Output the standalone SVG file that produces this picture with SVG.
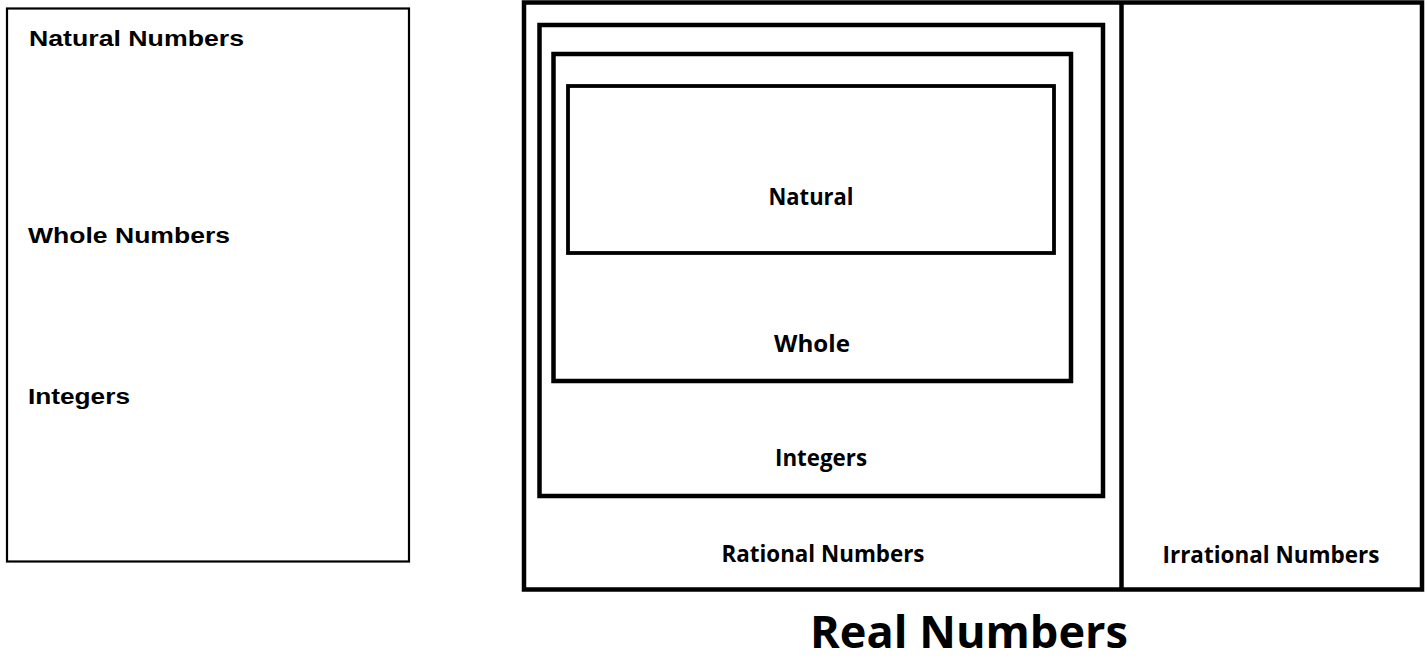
<svg xmlns="http://www.w3.org/2000/svg" width="1427" height="659" viewBox="0 0 1427 659">
<style>
.box{fill:none;stroke:#000;stroke-width:4.5}
.lbl{font-family:"Liberation Sans",Arial,sans-serif;font-weight:bold;font-size:22px;fill:#000}
.hand{font-family:"Open Sans","DejaVu Sans",sans-serif;font-weight:700;font-size:23px;fill:#000;text-anchor:middle}
</style>
<rect width="1427" height="659" fill="#fff"/>
<g id="list">
<rect x="7" y="8.5" width="402" height="553" fill="none" stroke="#000" stroke-width="2.2"/>
<text class="lbl" x="29" y="46" textLength="215" lengthAdjust="spacingAndGlyphs">Natural Numbers</text>
<text class="lbl" x="28" y="243" textLength="202" lengthAdjust="spacingAndGlyphs">Whole Numbers</text>
<text class="lbl" x="28" y="404" textLength="102" lengthAdjust="spacingAndGlyphs">Integers</text>
</g>
<g id="real">
<rect class="box" x="524" y="2.5" width="898" height="587"/>
<text class="hand" x="969" y="648" style="font-size:44px;font-weight:700" textLength="318" lengthAdjust="spacingAndGlyphs">Real Numbers</text>
</g>
<g id="rational">
<text class="hand" x="823" y="562" textLength="203" lengthAdjust="spacingAndGlyphs">Rational Numbers</text>
</g>
<g id="irrational">
<line x1="1121.5" y1="2.5" x2="1121.5" y2="589.5" stroke="#000" stroke-width="4.5"/>
<text class="hand" x="1271" y="563" textLength="217" lengthAdjust="spacingAndGlyphs">Irrational Numbers</text>
</g>
<g id="integers">
<rect class="box" x="539.5" y="25" width="563.5" height="471"/>
<text class="hand" x="821" y="466" textLength="92" lengthAdjust="spacingAndGlyphs">Integers</text>
</g>
<g id="whole">
<rect class="box" x="553.5" y="54" width="517.5" height="327"/>
<text class="hand" x="812" y="352" textLength="76" lengthAdjust="spacingAndGlyphs">Whole</text>
</g>
<g id="natural">
<rect class="box" x="568" y="86" width="486" height="167" style="stroke-width:3.8"/>
<text class="hand" x="811" y="205" textLength="85" lengthAdjust="spacingAndGlyphs">Natural</text>
</g>
<g id="connectors"></g>
</svg>
